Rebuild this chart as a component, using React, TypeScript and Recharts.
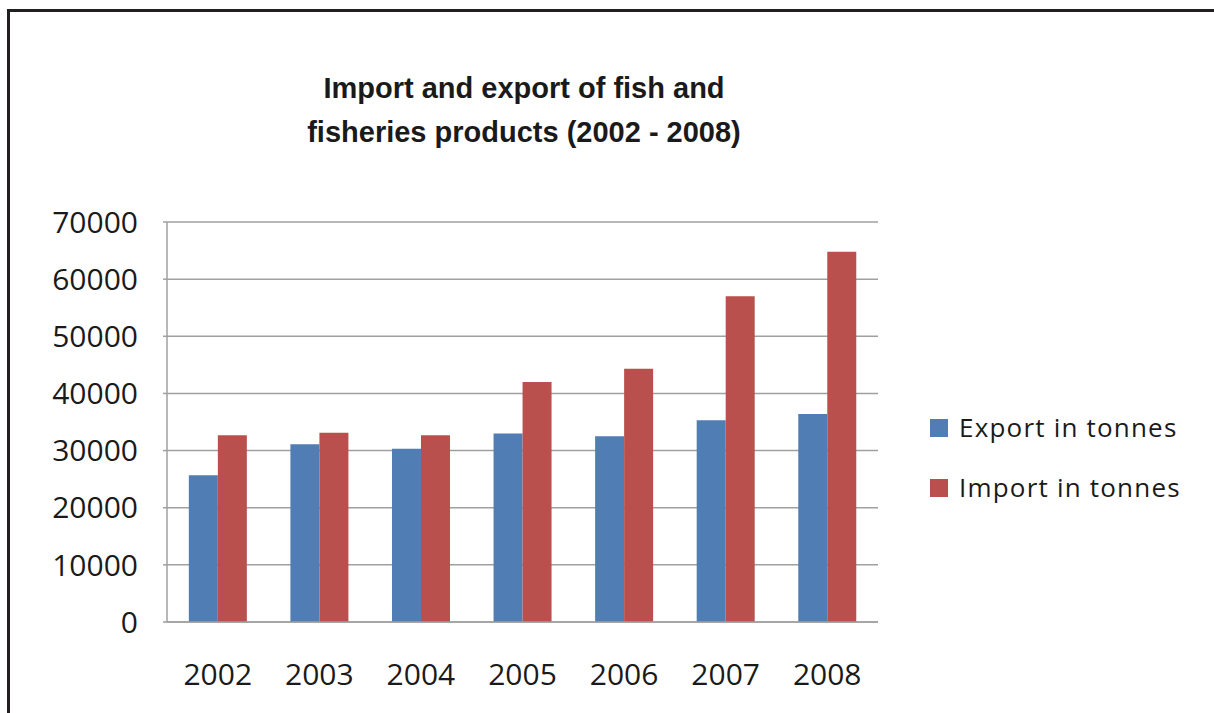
import React from "react";
import { BarChart, Bar, XAxis, YAxis, CartesianGrid } from "recharts";

// chart values
const years = ["2002", "2003", "2004", "2005", "2006", "2007", "2008"];
const exportTonnes = [25700, 31100, 30300, 33000, 32500, 35300, 36400];
const importTonnes = [32700, 33100, 32700, 42000, 44300, 57000, 64800];
const yTicks = [0, 10000, 20000, 30000, 40000, 50000, 60000, 70000];

const series = [
  { key: "exportTonnes", name: "Export in tonnes", color: "#4F7DB4" },
  { key: "importTonnes", name: "Import in tonnes", color: "#B9504D" },
];

const titleLines = [
  "Import and export of fish and",
  "fisheries products (2002 - 2008)",
];

const data = years.map((year, i) => ({
  year,
  exportTonnes: exportTonnes[i],
  importTonnes: importTonnes[i],
}));

const axisFont = { fontFamily: "'Open Sans', sans-serif", fontSize: 30, fill: "#1a1a1a" };

const App = () => {
  return (
    <div
      style={{
        position: "absolute",
        left: 0,
        top: 0,
        width: 1214,
        height: 713,
        overflow: "hidden",
        background: "#fff",
      }}
    >
      {/* outer frame, only left and top edges are in view */}
      <div
        style={{
          position: "absolute",
          left: 7,
          top: 9,
          width: 1400,
          height: 900,
          borderLeft: "3px solid #231f20",
          borderTop: "3px solid #231f20",
        }}
      />
      <BarChart
        width={1214}
        height={713}
        data={data}
        margin={{ top: 222, right: 336, bottom: 31, left: 67 }}
        barCategoryGap="21.5%"
        barGap={0}
        style={{ position: "absolute", left: 0, top: 0 }}
      >
        <CartesianGrid vertical={false} stroke="#a0a0a0" strokeWidth={1.5} />
        <XAxis
          dataKey="year"
          height={60}
          axisLine={{ stroke: "#a0a0a0", strokeWidth: 1.5 }}
          tickLine={false}
          tickSize={0}
          tickMargin={42}
          tick={axisFont}
          interval={0}
        />
        <YAxis
          width={100}
          domain={[0, 70000]}
          ticks={yTicks}
          interval={0}
          axisLine={{ stroke: "#a0a0a0", strokeWidth: 1.5 }}
          tickLine={{ stroke: "#a0a0a0", strokeWidth: 1.5 }}
          tickSize={4}
          tickMargin={25}
          tick={axisFont}
        />
        {series.map((s) => (
          <Bar
            key={s.key}
            dataKey={s.key}
            name={s.name}
            fill={s.color}
            isAnimationActive={false}
          />
        ))}
      </BarChart>
      <svg
        width={1214}
        height={713}
        style={{ position: "absolute", left: 0, top: 0, pointerEvents: "none" }}
      >
        {titleLines.map((line, i) => (
          <text
            key={line}
            x={524}
            y={98 + i * 44}
            textAnchor="middle"
            fontFamily="'Liberation Sans', Arial, sans-serif"
            fontWeight="bold"
            fontSize={29}
            fill="#1a1a1a"
          >
            {line}
          </text>
        ))}
        {series.map((s, i) => (
          <g key={s.key}>
            <rect x={930} y={419 + i * 60} width={18} height={18} fill={s.color} />
            <text
              x={959}
              y={437 + i * 60}
              fontFamily="'Open Sans', sans-serif"
              fontSize={26}
              letterSpacing={1.2}
              fill="#1a1a1a"
            >
              {s.name}
            </text>
          </g>
        ))}
      </svg>
    </div>
  );
};

export default App;
